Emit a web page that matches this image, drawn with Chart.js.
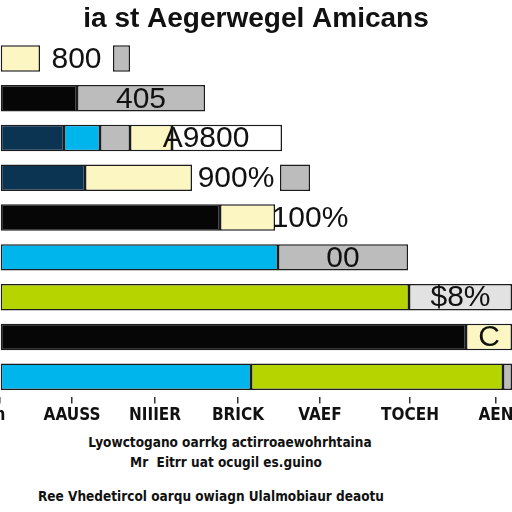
<!DOCTYPE html>
<html>
<head>
<meta charset="utf-8">
<script src="https://cdn.jsdelivr.net/npm/chart.js@4.4.1/dist/chart.umd.min.js"></script>
<style>
  html, body { margin: 0; padding: 0; background: #fff; }
  #wrap { position: relative; width: 512px; height: 512px; overflow: hidden; }
  #box { position: absolute; left: 0; top: 0; width: 512px; height: 428px; }
  .note {
    position: absolute; left: 0; width: 512px; text-align: center;
    font-family: 'DejaVu Sans Condensed', 'Liberation Sans Narrow', sans-serif;
    font-weight: bold; font-size: 13.5px; color: #111; white-space: nowrap;
  }
</style>
</head>
<body>
<div id="wrap">
  <div id="box"><canvas id="chart"></canvas></div>
  <div class="note" style="top:434px; left:-26px;">Lyowctogano oarrkg actirroaewohrhtaina</div>
  <div class="note" style="top:454px; left:-30px;">Mr&nbsp; Eitrr uat ocugil es.guino</div>
  <div class="note" style="top:488px; left:-45px;">Ree Vhedetircol oarqu owiagn Ulalmobiaur deaotu</div>
</div>
<script>
// chart data
const titleText = 'ia st Aegerwegel Amicans';
const rows = ['r1', 'r2', 'r3', 'r4', 'r5', 'r6', 'r7', 'r8', 'r9'];
const tickLabels = ['n', 'AAUSS', 'NIIIER', 'BRICK', 'VAEF', 'TOCEH', 'AEN'];
const tickValues = [0, 72, 155, 238, 320, 410, 496];

// segment widths per row, left to right
const seg0 = [40, 77, 64, 85, 220, 278, 409, 466, 251];
const seg1 = [73, 128, 36, 107, 55, 130, 103, 46, 252];
const seg2 = [17, 0, 30, 88, 70, 0, 0, 0, 9];
const seg3 = [0, 0, 42, 30, 0, 0, 0, 0, 0];
const seg4 = [0, 0, 110, 0, 0, 0, 0, 0, 0];

// text inside the bars and which segments it sits over
const barText = ['800', '405', 'A9800', '900%', '100%', '00', '$8%', 'C', ''];
const textSpan = [[1, 1], [1, 1], [3, 4], [2, 2], [2, 2], [1, 1], [1, 1], [1, 1], null];

// colours
const Y = '#fbf6c2', K = '#060606', N = '#0b3352', C = '#00b5ec';
const GR = '#bcbcbc', G = '#b6d400', LG = '#e2e2e2', W = '#ffffff', T = 'rgba(0,0,0,0)';
const colors = [
  [Y, K, N, N, K, C, G, K, C],
  [T, GR, C, Y, Y, GR, LG, Y, G],
  [GR, T, GR, T, T, T, T, T, GR],
  [T, T, Y, GR, T, T, T, T, T],
  [T, T, W, T, T, T, T, T, T]
];

const segs = [seg0, seg1, seg2, seg3, seg4];

const datasets = segs.map((values, i) => ({
  label: 'seg' + i,
  data: values,
  backgroundColor: colors[i],
  borderColor: '#1c1c1c',
  borderWidth: values.map((v, r) => (v === 0 || colors[i][r] === T) ? 0 : 1.5),
  borderSkipped: false,
  barPercentage: 0.9,
  categoryPercentage: 0.74
}));

// draws the labels over the bars
const barTextPlugin = {
  id: 'barText',
  afterDatasetsDraw(chart) {
    const ctx = chart.ctx;
    ctx.save();
    ctx.font = '30px "Liberation Sans", Arial, sans-serif';
    ctx.fillStyle = '#111';
    ctx.textAlign = 'center';
    ctx.textBaseline = 'middle';
    barText.forEach((txt, r) => {
      const span = textSpan[r];
      if (!txt || !span) return;
      const a = chart.getDatasetMeta(span[0]).data[r];
      const b = chart.getDatasetMeta(span[1]).data[r];
      const x = (a.base + b.x) / 2;
      ctx.fillText(txt, x, a.y + 1);
    });
    ctx.restore();
  }
};

new Chart(document.getElementById('chart'), {
  type: 'bar',
  data: { labels: rows, datasets: datasets },
  options: {
    indexAxis: 'y',
    responsive: true,
    maintainAspectRatio: false,
    animation: false,
    layout: { padding: { left: 0, right: 0, top: 0, bottom: 0 } },
    scales: {
      x: {
        stacked: true,
        min: 0,
        max: 512,
        afterBuildTicks: (scale) => { scale.ticks = tickValues.map(v => ({ value: v })); },
        afterFit: (scale) => { scale.paddingLeft = 0; scale.paddingRight = 0; },
        grid: { drawOnChartArea: false, drawTicks: true, tickLength: 7, color: '#333', lineWidth: 1.5 },
        border: { display: false },
        ticks: {
          autoSkip: false,
          maxRotation: 0,
          padding: 2,
          color: '#111',
          font: { family: '"DejaVu Sans Condensed", "Liberation Sans Narrow", sans-serif', size: 17, weight: 'bold' },
          callback: (v, i) => tickLabels[i]
        }
      },
      y: {
        stacked: true,
        display: false
      }
    },
    plugins: {
      legend: { display: false },
      tooltip: { enabled: false },
      title: {
        display: true,
        text: titleText,
        color: '#111',
        padding: { top: 2, bottom: 3 },
        font: { family: '"Liberation Sans", Arial, sans-serif', size: 28, weight: 'bold' }
      }
    }
  },
  plugins: [barTextPlugin]
});
</script>
</body>
</html>
